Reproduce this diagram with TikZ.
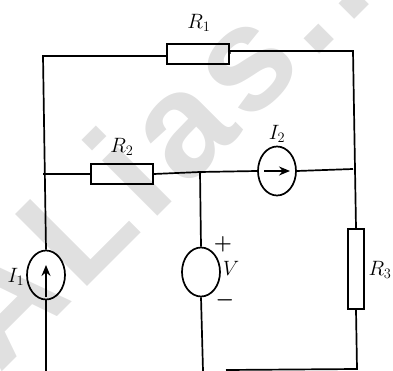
\documentclass[tikz,border=0pt]{standalone}
\usepackage{fontspec}
\usepackage{amsmath}
\usetikzlibrary{shapes.geometric}
\usetikzlibrary{arrows.meta}
\newfontfamily\stampfont[LetterSpace=5.5]{Liberation Sans}

\tikzset{
	wire/.style = {line width = 1.7pt},
	res/.style = {draw, line width = 1.7pt, minimum width = 62pt, minimum height = 20pt, inner sep = 0pt},
	src/.style = {draw, ellipse, line width = 1.7pt, minimum width = 38pt, minimum height = 49pt, inner sep = 0pt},
	lab/.style = {font = \fontsize{22}{22}\selectfont, inner sep = 0pt},
	flow/.style = {line width = 1.5pt, -{Stealth[length = 11pt, width = 9pt]}},
	stamp/.style = {text = black!12, font = \fontsize{148}{148}\stampfont\bfseries, inner sep = 0pt, anchor = base west, rotate = 45}
}

\begin{document}
\begin{tikzpicture}[x = 1pt, y = -1pt]

	\useasboundingbox (0,0) rectangle (393,371);

	\node[stamp] (mark) at (-1,375) {ALias..};

	% resistors
	\node[res] (r1) at (198,54) {};
	\node[res] (r2) at (122,174) {};
	\node[res, minimum width = 16pt, minimum height = 80pt] (r3) at (356,269) {};

	% sources
	\node[src] (i1) at (46,275) {};
	\node[src] (i2) at (277,171) {};
	\node[src] (v) at (201,272) {};

	% corners and junctions
	\coordinate (tl) at (43,56);
	\coordinate (tr) at (353,51);
	\coordinate (jl) at (43,174);
	\coordinate (jm) at (200,172);
	\coordinate (jr) at (353,169);
	\coordinate (bl) at (46,371);
	\coordinate (bm) at (203,371);
	\coordinate (br) at (357,369);
	\coordinate (bw) at (226,370);

	\draw[wire] (i1.north) -- (tl) -- (tl -| r1.west);
	\draw[wire] (r1.east) -- (r1.east |- tr) -- (tr) -- (r3.north);
	\draw[wire] (jl) -- (r2.west);
	\draw[wire] (r2.east) -- (jm) -- (i2.west);
	\draw[wire] (i2.east) -- (jr);
	\draw[wire] (jm) -- (v.north);
	\draw[wire] (i1.south) -- (bl);
	\draw[wire] (v.south) -- (bm);
	\draw[wire] (r3.south) -- (br) -- (bw);

	% arrows in the current sources
	\coordinate (i1a) at (46,297);
	\coordinate (i1b) at (46,265);
	\coordinate (i2a) at (264,171);
	\coordinate (i2b) at (290,171);
	\draw[flow] (i1a) -- (i1b);
	\draw[flow] (i2a) -- (i2b);

	% labels
	\node[lab] (lr1) at (199,23) {$R_1$};
	\node[lab] (lr2) at (122,147) {$R_2$};
	\node[lab] (lr3) at (380,270) {$R_3$};
	\node[lab] (li1) at (16,277) {$I_1$};
	\node[lab] (li2) at (277,134) {$I_2$};
	\node[lab] (lv) at (231,268) {$V$};
	\node[lab] (lp) at (223,244) {$\boldsymbol{+}$};
	\node[lab] (lm) at (225,300) {$\boldsymbol{-}$};

\end{tikzpicture}
\end{document}
